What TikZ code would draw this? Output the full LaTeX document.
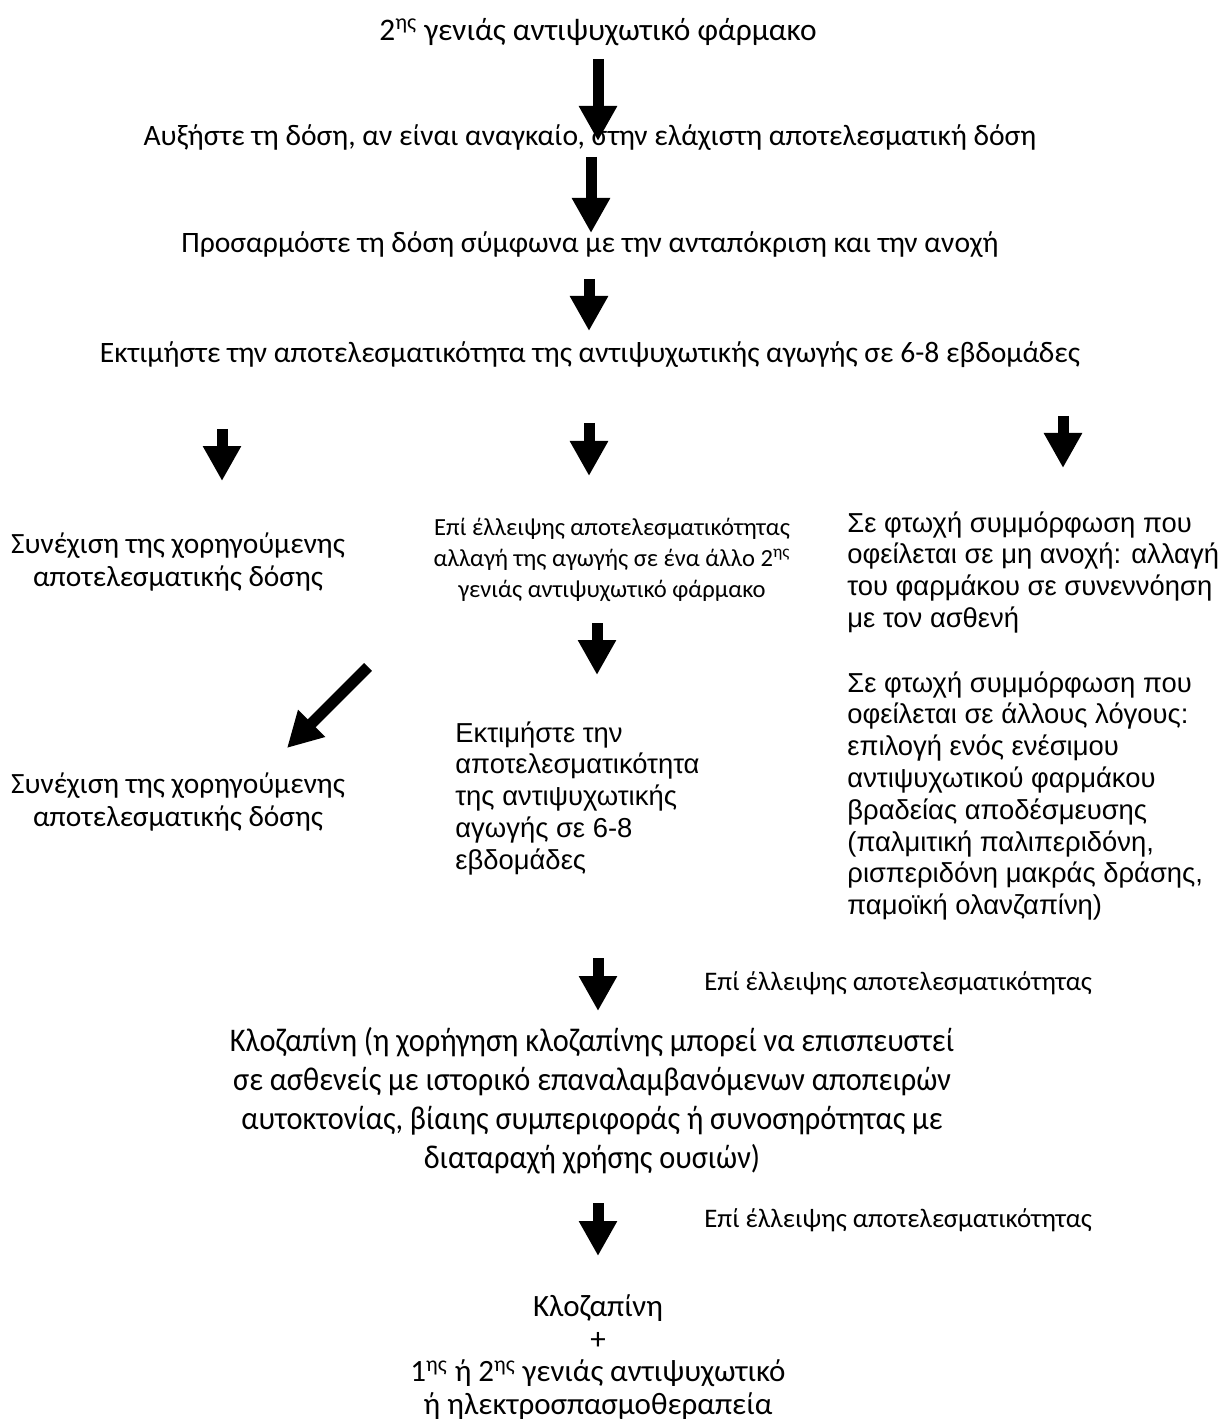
\documentclass[tikz,border=0pt]{standalone}
\usepackage{fontspec}
\setmainfont{Carlito}
\newfontfamily\arialfont{Liberation Sans}
\newfontfamily\narrowfont[FakeStretch=0.92]{Carlito}
\usetikzlibrary{positioning,arrows.meta}

\tikzset{
  steptext/.style={inner sep=0pt, align=center, font=\fontsize{14.8}{16.5}\selectfont},
  smalltext/.style={inner sep=0pt, align=center, font=\fontsize{12.3}{15.5}\selectfont},
  sidetext/.style={inner sep=0pt, align=left, anchor=north west, font=\arialfont\fontsize{13.7}{15.9}\selectfont},
  notetext/.style={inner sep=0pt, anchor=west, font=\fontsize{13.4}{15}\selectfont},
  blockarrow/.style={line width=5.5pt, -{Triangle[width=18pt,length=17.5pt]}}
}

\begin{document}
\begin{tikzpicture}[x=0.5pt,y=-0.5pt]
    \useasboundingbox (0,0) rectangle (1227,1422);

    \node[steptext, font=\fontsize{15.7}{17}\selectfont] (drug) at (598,32) {2\textsuperscript{ης} γενιάς αντιψυχωτικό φάρμακο};
    \node[steptext] (raise) at (590,138) {Αυξήστε τη δόση, αν είναι αναγκαίο, στην ελάχιστη αποτελεσματική δόση};
    \node[steptext] (adjust) at (590,245) {Προσαρμόστε τη δόση σύμφωνα με την ανταπόκριση και την ανοχή};
    \node[steptext] (assess) at (590,355) {Εκτιμήστε την αποτελεσματικότητα της αντιψυχωτικής αγωγής σε 6-8 εβδομάδες};

    \node[steptext, font=\fontsize{14.7}{16.5}\selectfont] (keep1) at (178,562) {Συνέχιση της χορηγούμενης\\αποτελεσματικής δόσης};
    \node[smalltext] (switch) at (612,560) {Επί έλλειψης αποτελεσματικότητας\\αλλαγή της αγωγής σε ένα άλλο 2\textsuperscript{ης}\\γενιάς αντιψυχωτικό φάρμακο};
    \node[sidetext] (adhere1) at (847,511) {Σε φτωχή συμμόρφωση που\\οφείλεται σε μη ανοχή: αλλαγή\\του φαρμάκου σε συνεννόηση\\με τον ασθενή};
    \node[sidetext] (adhere2) at (847,671) {Σε φτωχή συμμόρφωση που\\οφείλεται σε άλλους λόγους:\\επιλογή ενός ενέσιμου\\αντιψυχωτικού φαρμάκου\\βραδείας αποδέσμευσης\\(παλμιτική παλιπεριδόνη,\\ρισπεριδόνη μακράς δράσης,\\παμοϊκή ολανζαπίνη)};

    \node[steptext, font=\fontsize{14.7}{16.5}\selectfont] (keep2) at (178,802) {Συνέχιση της χορηγούμενης\\αποτελεσματικής δόσης};
    \node[sidetext] (reassess) at (455,721) {Εκτιμήστε την\\αποτελεσματικότητα\\της αντιψυχωτικής\\αγωγής σε 6-8\\εβδομάδες};

    \node[notetext] (fail1) at (704,983) {Επί έλλειψης αποτελεσματικότητας};
    \node[inner sep=0pt, align=center, font=\narrowfont\fontsize{16.5}{19.5}\selectfont] (clozapine) at (592,1101) {Κλοζαπίνη (η χορήγηση κλοζαπίνης μπορεί να επισπευστεί\\σε ασθενείς με ιστορικό επαναλαμβανόμενων αποπειρών\\αυτοκτονίας, βίαιης συμπεριφοράς ή συνοσηρότητας με\\διαταραχή χρήσης ουσιών)};

    \node[notetext] (fail2) at (704,1220) {Επί έλλειψης αποτελεσματικότητας};
    \node[inner sep=0pt, align=center, font=\fontsize{15.5}{16.3}\selectfont] (combo) at (598,1357) {Κλοζαπίνη\\+\\1\textsuperscript{ης} ή 2\textsuperscript{ης} γενιάς αντιψυχωτικό\\ή ηλεκτροσπασμοθεραπεία};

    \coordinate (a1s) at (598,59);   \coordinate (a1e) at (598,141);
    \coordinate (a2s) at (591,157);  \coordinate (a2e) at (591,233);
    \coordinate (a3s) at (589,279);  \coordinate (a3e) at (589,331);
    \coordinate (bls) at (222,429);  \coordinate (ble) at (222,481);
    \coordinate (bms) at (589,423);  \coordinate (bme) at (589,476);
    \coordinate (brs) at (1063,416); \coordinate (bre) at (1063,468);
    \coordinate (cms) at (597,623);  \coordinate (cme) at (597,675);
    \coordinate (cls) at (368,667);  \coordinate (cle) at (287,748);
    \coordinate (d1s) at (598,958);  \coordinate (d1e) at (598,1011);
    \coordinate (d2s) at (598,1203); \coordinate (d2e) at (598,1256);

    \draw[blockarrow] (a1s) -- (a1e);
    \draw[blockarrow] (a2s) -- (a2e);
    \draw[blockarrow] (a3s) -- (a3e);
    \draw[blockarrow] (bls) -- (ble);
    \draw[blockarrow] (bms) -- (bme);
    \draw[blockarrow] (brs) -- (bre);
    \draw[blockarrow] (cms) -- (cme);
    \draw[blockarrow] (cls) -- (cle);
    \draw[blockarrow] (d1s) -- (d1e);
    \draw[blockarrow] (d2s) -- (d2e);
\end{tikzpicture}
\end{document}
